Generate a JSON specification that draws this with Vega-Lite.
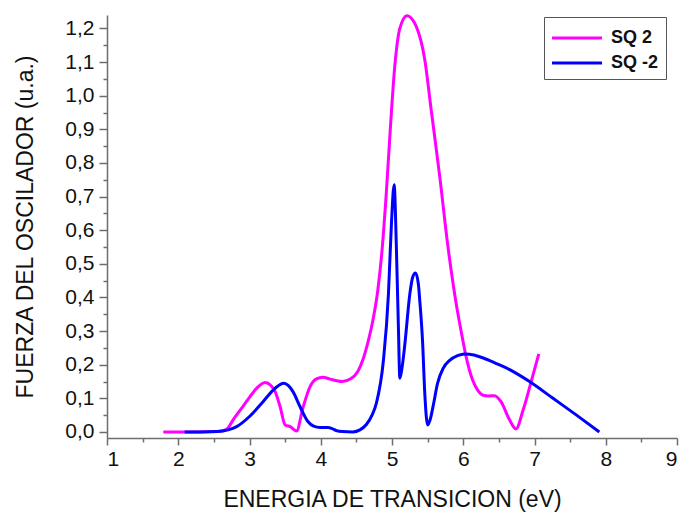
{
  "$schema": "https://vega.github.io/schema/vega-lite/v6.json",
  "width": 570,
  "height": 423,
  "autosize": {"type": "none"},
  "padding": {"left": 107, "top": 15, "right": 9, "bottom": 79},
  "background": "white",
  "config": {
    "view": {"stroke": null},
    "font": "Liberation Sans",
    "axis": {
      "grid": false,
      "domainColor": "#6e6e6e",
      "domainWidth": 1.5,
      "tickColor": "#6e6e6e",
      "tickWidth": 1.5,
      "labelFont": "Liberation Sans",
      "labelFontSize": 21,
      "labelColor": "#111",
      "titleFont": "Liberation Sans",
      "titleFontSize": 23,
      "titleFontWeight": "normal",
      "titleColor": "#111"
    }
  },
  "data": {
    "values": [
      {"e": 1.79, "f": 0, "s": "SQ 2"},
      {"e": 2.0, "f": 0, "s": "SQ 2"},
      {"e": 2.3, "f": 0, "s": "SQ 2"},
      {"e": 2.55, "f": 0.001, "s": "SQ 2"},
      {"e": 2.68, "f": 0.008, "s": "SQ 2"},
      {"e": 2.77, "f": 0.036, "s": "SQ 2"},
      {"e": 2.88, "f": 0.068, "s": "SQ 2"},
      {"e": 3.0, "f": 0.103, "s": "SQ 2"},
      {"e": 3.1, "f": 0.13, "s": "SQ 2"},
      {"e": 3.22, "f": 0.147, "s": "SQ 2"},
      {"e": 3.3, "f": 0.138, "s": "SQ 2"},
      {"e": 3.36, "f": 0.12, "s": "SQ 2"},
      {"e": 3.43, "f": 0.075, "s": "SQ 2"},
      {"e": 3.5, "f": 0.021, "s": "SQ 2"},
      {"e": 3.57, "f": 0.016, "s": "SQ 2"},
      {"e": 3.66, "f": 0.003, "s": "SQ 2"},
      {"e": 3.75, "f": 0.072, "s": "SQ 2"},
      {"e": 3.85, "f": 0.135, "s": "SQ 2"},
      {"e": 3.94, "f": 0.158, "s": "SQ 2"},
      {"e": 4.03, "f": 0.163, "s": "SQ 2"},
      {"e": 4.13, "f": 0.157, "s": "SQ 2"},
      {"e": 4.3, "f": 0.15, "s": "SQ 2"},
      {"e": 4.42, "f": 0.158, "s": "SQ 2"},
      {"e": 4.52, "f": 0.18, "s": "SQ 2"},
      {"e": 4.59, "f": 0.214, "s": "SQ 2"},
      {"e": 4.66, "f": 0.265, "s": "SQ 2"},
      {"e": 4.73, "f": 0.33, "s": "SQ 2"},
      {"e": 4.8, "f": 0.42, "s": "SQ 2"},
      {"e": 4.86, "f": 0.54, "s": "SQ 2"},
      {"e": 4.92, "f": 0.71, "s": "SQ 2"},
      {"e": 4.97, "f": 0.88, "s": "SQ 2"},
      {"e": 5.04, "f": 1.09, "s": "SQ 2"},
      {"e": 5.11, "f": 1.2, "s": "SQ 2"},
      {"e": 5.21, "f": 1.238, "s": "SQ 2"},
      {"e": 5.34, "f": 1.206, "s": "SQ 2"},
      {"e": 5.46, "f": 1.107, "s": "SQ 2"},
      {"e": 5.55, "f": 0.958, "s": "SQ 2"},
      {"e": 5.67, "f": 0.76, "s": "SQ 2"},
      {"e": 5.78, "f": 0.56, "s": "SQ 2"},
      {"e": 5.9, "f": 0.383, "s": "SQ 2"},
      {"e": 5.97, "f": 0.3, "s": "SQ 2"},
      {"e": 6.04, "f": 0.224, "s": "SQ 2"},
      {"e": 6.13, "f": 0.155, "s": "SQ 2"},
      {"e": 6.2, "f": 0.125, "s": "SQ 2"},
      {"e": 6.27, "f": 0.11, "s": "SQ 2"},
      {"e": 6.36, "f": 0.107, "s": "SQ 2"},
      {"e": 6.44, "f": 0.108, "s": "SQ 2"},
      {"e": 6.53, "f": 0.09, "s": "SQ 2"},
      {"e": 6.65, "f": 0.036, "s": "SQ 2"},
      {"e": 6.74, "f": 0.009, "s": "SQ 2"},
      {"e": 6.84, "f": 0.065, "s": "SQ 2"},
      {"e": 6.96, "f": 0.155, "s": "SQ 2"},
      {"e": 7.06, "f": 0.232, "s": "SQ 2"},
      {"e": 2.09, "f": 0, "s": "SQ -2"},
      {"e": 2.3, "f": 0, "s": "SQ -2"},
      {"e": 2.55, "f": 0.001, "s": "SQ -2"},
      {"e": 2.7, "f": 0.006, "s": "SQ -2"},
      {"e": 2.82, "f": 0.016, "s": "SQ -2"},
      {"e": 3.0, "f": 0.046, "s": "SQ -2"},
      {"e": 3.19, "f": 0.09, "s": "SQ -2"},
      {"e": 3.36, "f": 0.13, "s": "SQ -2"},
      {"e": 3.48, "f": 0.145, "s": "SQ -2"},
      {"e": 3.55, "f": 0.137, "s": "SQ -2"},
      {"e": 3.61, "f": 0.12, "s": "SQ -2"},
      {"e": 3.71, "f": 0.075, "s": "SQ -2"},
      {"e": 3.82, "f": 0.031, "s": "SQ -2"},
      {"e": 3.9, "f": 0.017, "s": "SQ -2"},
      {"e": 3.99, "f": 0.013, "s": "SQ -2"},
      {"e": 4.1, "f": 0.013, "s": "SQ -2"},
      {"e": 4.16, "f": 0.01, "s": "SQ -2"},
      {"e": 4.22, "f": 0.004, "s": "SQ -2"},
      {"e": 4.3, "f": 0.001, "s": "SQ -2"},
      {"e": 4.45, "f": 0.0, "s": "SQ -2"},
      {"e": 4.55, "f": 0.006, "s": "SQ -2"},
      {"e": 4.64, "f": 0.022, "s": "SQ -2"},
      {"e": 4.72, "f": 0.05, "s": "SQ -2"},
      {"e": 4.78, "f": 0.085, "s": "SQ -2"},
      {"e": 4.88, "f": 0.214, "s": "SQ -2"},
      {"e": 4.95, "f": 0.41, "s": "SQ -2"},
      {"e": 4.99, "f": 0.61, "s": "SQ -2"},
      {"e": 5.03, "f": 0.735, "s": "SQ -2"},
      {"e": 5.06, "f": 0.56, "s": "SQ -2"},
      {"e": 5.09, "f": 0.31, "s": "SQ -2"},
      {"e": 5.11, "f": 0.16, "s": "SQ -2"},
      {"e": 5.14, "f": 0.19, "s": "SQ -2"},
      {"e": 5.18, "f": 0.26, "s": "SQ -2"},
      {"e": 5.25, "f": 0.41, "s": "SQ -2"},
      {"e": 5.29, "f": 0.46, "s": "SQ -2"},
      {"e": 5.33, "f": 0.473, "s": "SQ -2"},
      {"e": 5.37, "f": 0.44, "s": "SQ -2"},
      {"e": 5.39, "f": 0.39, "s": "SQ -2"},
      {"e": 5.43, "f": 0.265, "s": "SQ -2"},
      {"e": 5.46, "f": 0.115, "s": "SQ -2"},
      {"e": 5.5, "f": 0.021, "s": "SQ -2"},
      {"e": 5.54, "f": 0.04, "s": "SQ -2"},
      {"e": 5.58, "f": 0.08, "s": "SQ -2"},
      {"e": 5.64, "f": 0.145, "s": "SQ -2"},
      {"e": 5.72, "f": 0.19, "s": "SQ -2"},
      {"e": 5.81, "f": 0.213, "s": "SQ -2"},
      {"e": 5.92, "f": 0.227, "s": "SQ -2"},
      {"e": 6.02, "f": 0.232, "s": "SQ -2"},
      {"e": 6.15, "f": 0.229, "s": "SQ -2"},
      {"e": 6.28, "f": 0.22, "s": "SQ -2"},
      {"e": 6.45, "f": 0.205, "s": "SQ -2"},
      {"e": 6.61, "f": 0.19, "s": "SQ -2"},
      {"e": 6.93, "f": 0.15, "s": "SQ -2"},
      {"e": 7.26, "f": 0.1, "s": "SQ -2"},
      {"e": 7.59, "f": 0.05, "s": "SQ -2"},
      {"e": 7.91, "f": 0.0, "s": "SQ -2"}
    ]
  },
  "resolve": {"axis": {"x": "independent", "y": "independent"}},
  "layer": [
    {
      "mark": {"type": "point", "opacity": 0},
      "encoding": {
        "x": {
          "field": "e", "type": "quantitative",
          "scale": {"domain": [1, 9], "nice": false, "zero": false},
          "axis": {"orient": "bottom", "values": [1.5, 2.5, 3.5, 4.5, 5.5, 6.5, 7.5, 8.5], "labels": false, "domain": false, "tickSize": 4, "title": null}
        },
        "y": {
          "field": "f", "type": "quantitative",
          "scale": {"domain": [-0.018, 1.24], "nice": false, "zero": false},
          "axis": {"orient": "left", "values": [0.05, 0.15, 0.25, 0.35, 0.45, 0.55, 0.65, 0.75, 0.85, 0.95, 1.05, 1.15], "labels": false, "domain": false, "tickSize": 4, "title": null}
        }
      }
    },
    {
      "mark": {"type": "line", "strokeWidth": 3, "interpolate": "monotone"},
      "encoding": {
        "x": {
          "field": "e", "type": "quantitative",
          "scale": {"domain": [1, 9], "nice": false, "zero": false},
          "axis": {"orient": "bottom", "values": [1, 2, 3, 4, 5, 6, 7, 8, 9], "format": "d", "tickSize": 7, "labelPadding": 3, "title": "ENERGIA DE TRANSICION (eV)", "titlePadding": 19}
        },
        "y": {
          "field": "f", "type": "quantitative",
          "scale": {"domain": [-0.018, 1.24], "nice": false, "zero": false},
          "axis": {"orient": "left", "values": [0, 0.1, 0.2, 0.3, 0.4, 0.5, 0.6, 0.7, 0.8, 0.9, 1.0, 1.1, 1.2], "labelExpr": "replace(format(datum.value, '.1f'), '.', ',')", "tickSize": 8, "labelPadding": 5, "title": "FUERZA DEL OSCILADOR (u.a.)", "titlePadding": 27}
        },
        "color": {
          "field": "s", "type": "nominal",
          "scale": {"domain": ["SQ 2", "SQ -2"], "range": ["#ff00ff", "#0000ff"]},
          "legend": {
            "title": null,
            "orient": "none",
            "legendX": 437,
            "legendY": 2,
            "symbolType": "M-2,0H2",
            "symbolSize": 625,
            "symbolStrokeWidth": 3,
            "symbolOffset": 12,
            "labelFont": "Liberation Sans",
            "labelFontWeight": "bold",
            "labelFontSize": 18,
            "labelColor": "#111",
            "labelExpr": "datum.label + '\u00a0\u00a0\u00a0\u00a0\u00a0'",
            "strokeColor": "#555",
            "fillColor": "white",
            "padding": 7,
            "rowPadding": 2,
            "labelOffset": 20
          }
        }
      }
    }
  ]
}
